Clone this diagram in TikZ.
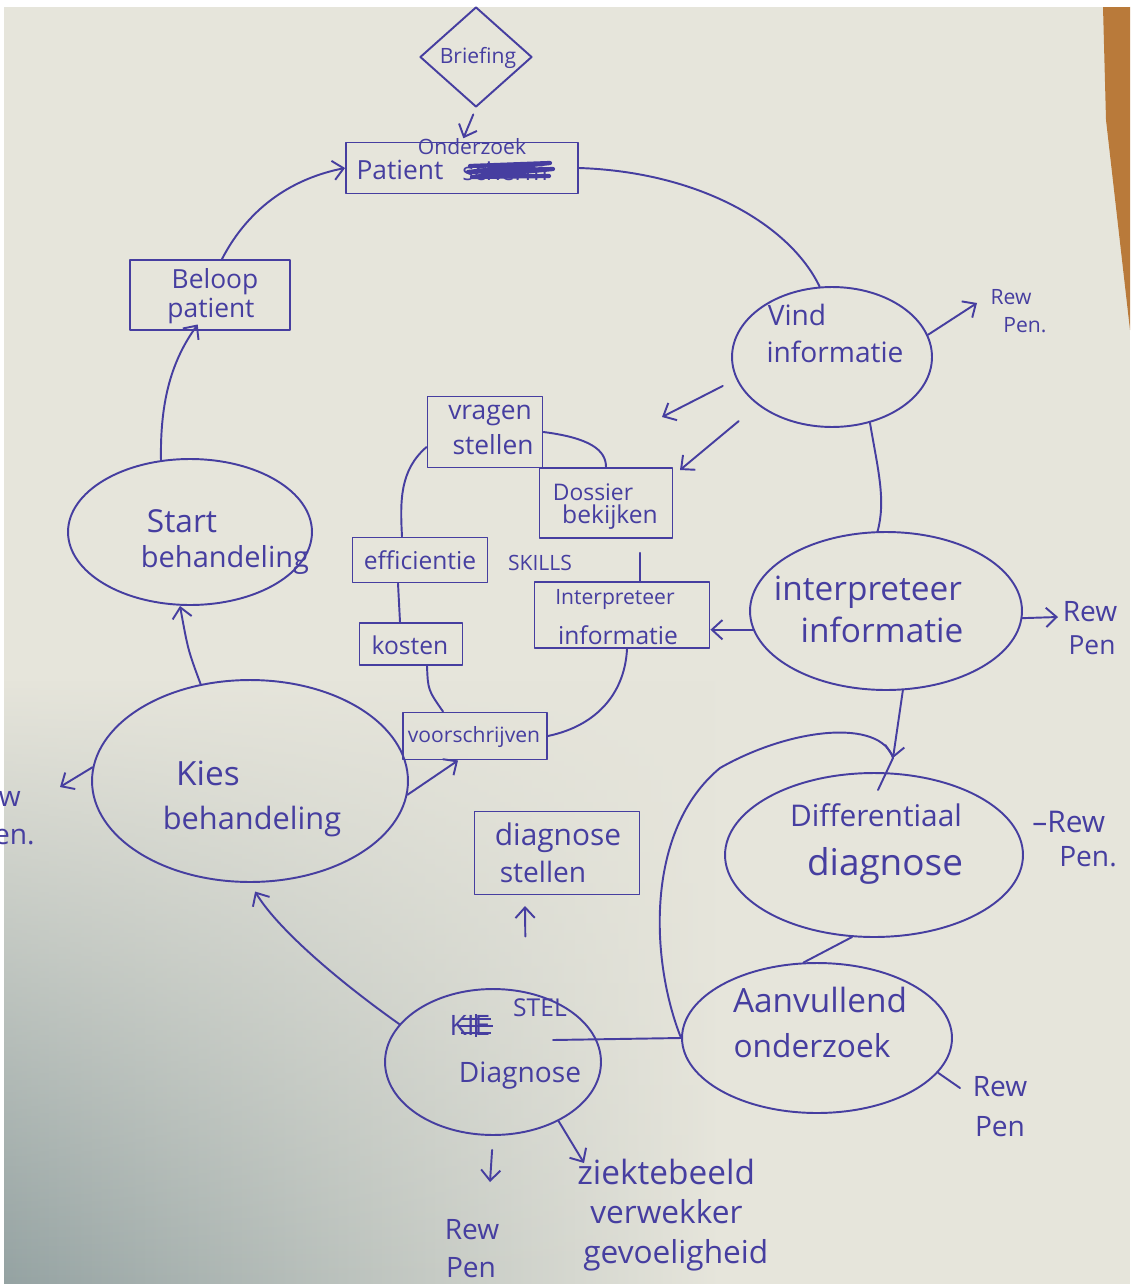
\documentclass[tikz,border=0pt]{standalone}
\usepackage{fontspec}
\setmainfont{Open Sans}
\usetikzlibrary{shapes.geometric,arrows.meta,calc,fadings}
\definecolor{ink}{RGB}{70,62,160}
\definecolor{paper}{RGB}{230,229,219}
\definecolor{shadowgrey}{RGB}{148,162,162}
\definecolor{wood}{RGB}{185,122,58}
\tikzfading[name=fadeup, top color=transparent!100, bottom color=transparent!0]

\begin{document}
\begin{tikzpicture}[x=0.02cm,y=-0.02cm,
  pen/.style={draw=ink,line width=1.1pt,line cap=round,line join=round},
  arr/.style={pen,-{Straight Barb[length=6pt,width=11pt]}},
  oval/.style={ellipse,pen,inner sep=0pt},
  box/.style={rectangle,pen,inner sep=0pt},
  hw/.style={text=ink,inner sep=0pt,font=\fontsize{#1}{#1}\selectfont},
  scribble/.style={draw=ink,line width=2.4pt,line cap=round,line join=round},
]
\useasboundingbox (0,0) rectangle (1130,1284);
\clip (0,0) rectangle (1130,1284);

% sheet of paper with its shadow, the desk edge and the white margins
\fill[paper] (0,0) rectangle (1130,1284);
\shade[left color=shadowgrey, right color=paper, path fading=fadeup] (0,680) rectangle (720,1284);
\fill[wood] (1103,7) -- (1130,7) -- (1130,330) -- (1106,120) -- cycle;
\fill[white] (0,0) rectangle (1130,7);
\fill[white] (0,0) rectangle (4,1284);

% ---------- outer cycle: shapes ----------
\node[diamond,pen,inner sep=0pt,minimum width=2.24cm,minimum height=2.0cm] (brief) at (476,57) {};
\node[box,minimum width=4.64cm,minimum height=1.02cm] (patbox) at (462,168) {};
\node[box,minimum width=3.2cm,minimum height=1.4cm] (beloop) at (210,295) {};
\node[oval,minimum width=4.0cm,minimum height=2.8cm] (vind) at (832,357) {};
\node[oval,minimum width=5.44cm,minimum height=3.16cm] (interp) at (886,611) {};
\node[oval,minimum width=5.96cm,minimum height=3.28cm] (diff) at (874,855) {};
\node[oval,minimum width=5.4cm,minimum height=3.0cm] (aanv) at (817,1038) {};
\node[oval,minimum width=4.32cm,minimum height=2.92cm] (stel) at (493,1062) {};
\node[oval,minimum width=6.32cm,minimum height=4.04cm] (kies) at (250,781) {};
\node[oval,minimum width=4.88cm,minimum height=2.92cm] (start) at (190,532) {};
\node[box,minimum width=3.3cm,minimum height=1.66cm] (diagstel) at (557,853) {};

% ---------- inner skills cycle: shapes ----------
\node[box,minimum width=2.3cm,minimum height=1.42cm] (vragen) at (485,432) {};
\node[box,minimum width=2.66cm,minimum height=1.4cm] (dossier) at (606,503) {};
\node[box,minimum width=3.5cm,minimum height=1.32cm] (interpbox) at (622,615) {};
\node[box,minimum width=2.7cm,minimum height=0.9cm] (eff) at (420,560) {};
\node[box,minimum width=2.06cm,minimum height=0.84cm] (kosten) at (411,644) {};
\node[box,minimum width=2.88cm,minimum height=0.94cm] (voor) at (475,736) {};

% ---------- texts ----------
\node[hw=12] (tBrief) at (478,58) {Briefing};
\node[hw=12] (tOnd) at (472,147) {Onderzoek};
\node[hw=15] (tPat) at (400,170) {Patient};
\node[hw=14] (tScr) at (505,171) {scherm};
\node[hw=15] (tBel1) at (215,282) {Beloop};
\node[hw=15] (tBel2) at (211,311) {patient};
\node[hw=16] (tVind1) at (797,315) {Vind};
\node[hw=16] (tVind2) at (835,352) {informatie};
\node[hw=12] (tRewA1) at (1011,297) {Rew};
\node[hw=12] (tRewA2) at (1025,325) {Pen.};
\node[hw=19] (tInt1) at (868,592) {interpreteer};
\node[hw=19] (tInt2) at (882,630) {informatie};
\node[hw=16] (tRewB1) at (1090,612) {Rew};
\node[hw=15] (tRewB2) at (1092,645) {Pen};
\node[hw=17] (tDiff1) at (876,815) {Differentiaal};
\node[hw=21] (tDiff2) at (885,866) {diagnose};
\node[hw=17,anchor=west] (tRewC1) at (1032,822) {–Rew};
\node[hw=16] (tRewC2) at (1088,857) {Pen.};
\node[hw=19] (tAanv1) at (820,1000) {Aanvullend};
\node[hw=18] (tAanv2) at (812,1046) {onderzoek};
\node[hw=16] (tRewD1) at (1000,1087) {Rew};
\node[hw=16] (tRewD2) at (1000,1127) {Pen};
\node[hw=16] (tKie) at (470,1025) {KIE};
\node[hw=14] (tStel) at (540,1008) {STEL};
\node[hw=16] (tDiag) at (520,1076) {Diagnose};
\node[hw=16] (tRewE1) at (472,1230) {Rew};
\node[hw=16] (tRewE2) at (471,1268) {Pen};
\node[hw=19,anchor=west] (tZiek) at (577,1172) {ziektebeeld};
\node[hw=18,anchor=west] (tVerw) at (590,1212) {verwekker};
\node[hw=18,anchor=west] (tGev) at (583,1255) {gevoeligheid};
\node[hw=17] (tDs1) at (558,838) {diagnose};
\node[hw=16] (tDs2) at (543,872) {stellen};
\node[hw=19] (tKies1) at (208,773) {Kies};
\node[hw=17.5] (tKies2) at (252,822) {behandeling};
\node[hw=16,anchor=east] (tRewF1) at (21,797) {Rew};
\node[hw=16,anchor=east] (tRewF2) at (35,835) {Pen.};
\node[hw=18] (tStart1) at (182,521) {Start};
\node[hw=16.5] (tStart2) at (225,560) {behandeling};
\node[hw=15] (tVr1) at (490,415) {vragen};
\node[hw=15] (tVr2) at (493,445) {stellen};
\node[hw=13] (tDos1) at (593,492) {Dossier};
\node[hw=14] (tDos2) at (610,517) {bekijken};
\node[hw=14] (tEff) at (420,560) {efficientie};
\node[hw=14] (tKos) at (410,645) {kosten};
\node[hw=12] (tVoor) at (474,737) {voorschrijven};
\node[hw=12] (tIb1) at (615,600) {Interpreteer};
\node[hw=14] (tIb2) at (618,635) {informatie};
\node[hw=12] (tSkills) at (540,563) {SKILLS};

% crossed-out words
\draw[scribble] (470,166) -- (550,163) -- (468,172) -- (553,169) -- (472,177) -- (549,176);
\draw[ink,line width=1.3pt] (461,1019) -- (491,1019) (459,1026) -- (493,1026) (461,1033) -- (491,1033) (476,1014) -- (476,1037);

% free ends of the loose arrows
\coordinate (tipRewA) at (977,303);
\coordinate (tipL1) at (662,417);
\coordinate (tipL2) at (680,470);
\coordinate (tipRewB) at (1058,617);
\coordinate (mid) at (893,758);
\coordinate (midend) at (878,790);
\coordinate (dashtip) at (960,1088);
\coordinate (uptip) at (525,906);
\coordinate (downtip) at (490,1182);
\coordinate (ziektip) at (584,1163);
\coordinate (kiestip) at (60,787);

% ---------- outer cycle: connectors ----------
\draw[arr,shorten <=4pt,shorten >=2pt] (brief.south) -- (patbox.north);
\draw[arr] ([xshift=0.24cm]beloop.north) .. controls (250,205) and (295,178) .. (patbox.west);
\draw[pen] (patbox.east) .. controls (700,172) and (790,225) .. (vind.100);
\draw[arr] (vind.13) -- (tipRewA);
\draw[arr,shorten <=0.3cm] (vind.193) -- (tipL1);
\draw[arr,shorten <=0.5cm] (vind.213) -- (tipL2);
\draw[pen] (vind.300) .. controls (878,470) and (886,500) .. (interp.96);
\draw[arr] (interp.188) -- (interpbox.east |- interp.188);
\draw[arr] (interp.-3) -- (tipRewB);
\draw[arr] (interp.282) -- (mid);
\draw[pen] (mid) -- (midend);
\draw[pen] (aanv.west) .. controls (650,960) and (645,830) .. (720,768)
           .. controls (790,728) and (880,718) .. (mid);
\draw[pen] (diff.255) -- (aanv.100);
\draw[pen] (aanv.-16) -- (dashtip);
\draw[pen] ($(stel.center)+(60,-22)$) -- (aanv.west);
\draw[arr,shorten >=0.2cm] (stel.158) .. controls (330,975) and (275,925) .. (kies.south);
\draw[arr,shorten <=1.1cm] (stel.65) -- (uptip);
\draw[arr,shorten <=0.28cm] (stel.south) -- (downtip);
\draw[arr] (stel.-42) -- (ziektip);
\draw[arr] (kies.175) -- (kiestip);
\draw[arr] (kies.-5) -- ([xshift=-0.34cm]voor.south);
\draw[arr] (kies.117) .. controls (188,650) .. ([xshift=-0.2cm]start.south);
\draw[arr,shorten >=-0.16cm] (start.112) .. controls (160,400) and (172,360) .. ([xshift=-0.34cm]beloop.south);

% ---------- inner skills cycle: connectors ----------
\draw[pen] (vragen.east) .. controls (590,438) and (606,450) .. (dossier.north);
\draw[pen] ([yshift=-0.3cm]vragen.west) .. controls (400,470) and (400,500) .. ([xshift=-0.36cm]eff.north);
\draw[pen,shorten <=0.28cm] ([xshift=0.68cm]dossier.south) -- ([xshift=0.36cm]interpbox.north);
\draw[pen] ([xshift=0.1cm]interpbox.south) .. controls (625,690) and (600,725) .. (voor.east);
\draw[pen] ([xshift=-0.44cm]eff.south) -- ([xshift=-0.22cm]kosten.north);
\draw[pen] ([xshift=0.32cm]kosten.south) .. controls (428,690) .. ([xshift=-0.64cm]voor.north);
\end{tikzpicture}
\end{document}
